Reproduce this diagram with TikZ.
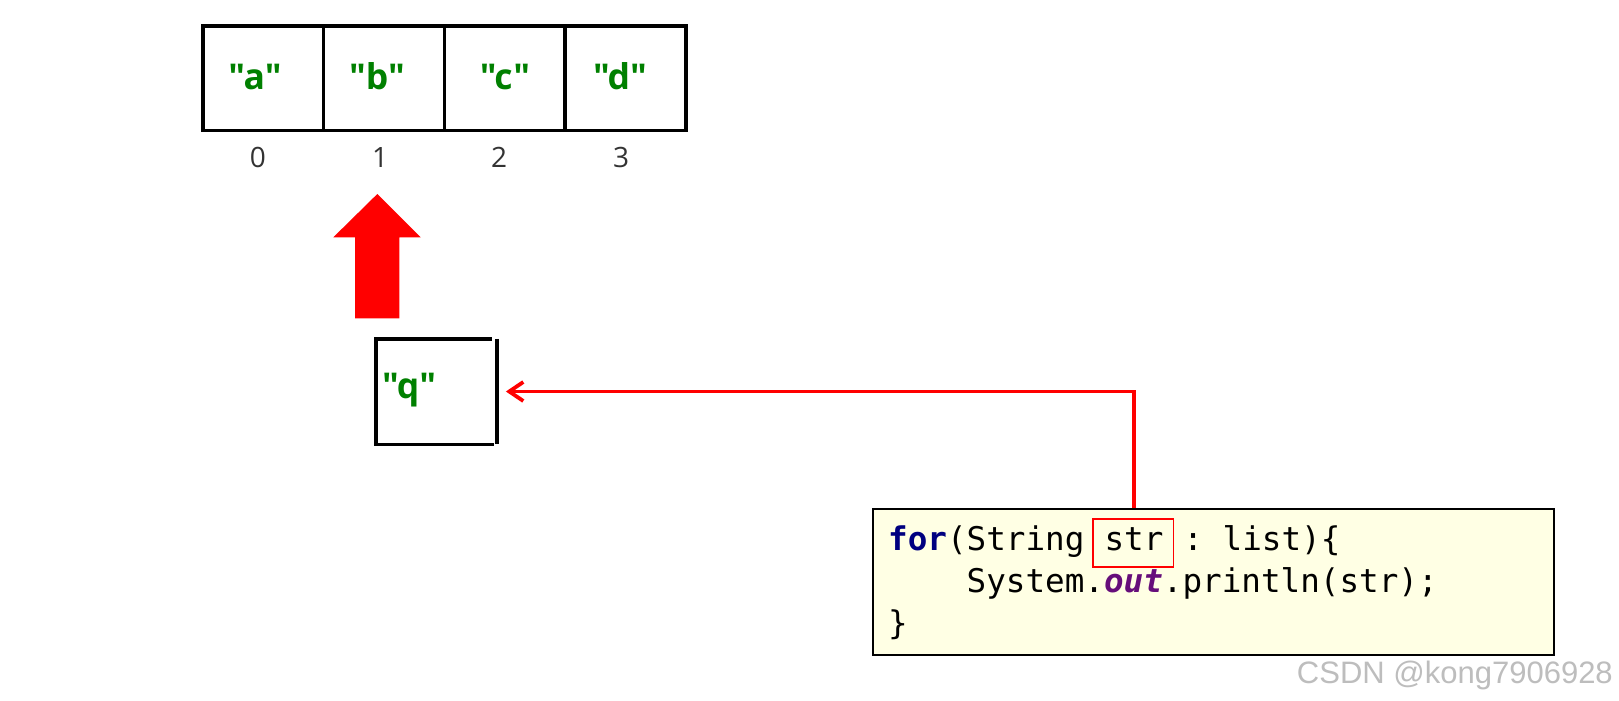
\documentclass[tikz,border=0pt]{standalone}
\usepackage{fontspec}
\setmainfont{Open Sans}[Ligatures=TeXOff]
\newfontfamily\codefont{DejaVu Sans Mono}[Ligatures=TeXOff]
\newfontfamily\wmfont{Liberation Sans}[Ligatures=TeXOff]
\usetikzlibrary{arrows.meta}
\definecolor{strgreen}{HTML}{008000}
\definecolor{idxgray}{HTML}{333333}
\definecolor{codebg}{HTML}{FFFFE4}
\definecolor{kwblue}{HTML}{000080}
\definecolor{fieldpurple}{HTML}{660E7A}
\definecolor{arrred}{HTML}{FF0000}
\definecolor{wmgray}{HTML}{BDBDBD}
\tikzset{
  cell/.style={draw=black, line width=3.4pt, minimum width=120.7pt, minimum height=104.7pt, inner sep=0pt},
  strlabel/.style={text=strgreen, font=\fontsize{35.5}{42}\selectfont\bfseries, inner sep=0pt},
  idxlabel/.style={text=idxgray, font=\fontsize{28}{34}\selectfont, inner sep=0pt, anchor=base},
  qline/.style={draw=black, line width=3.4pt},
  codeline/.style={font=\codefont\fontsize{32.6}{40}\selectfont, inner sep=0pt, anchor=base west},
  codebox/.style={draw=black, line width=2pt, fill=codebg, minimum width=681.5pt, minimum height=145.6pt, inner sep=0pt},
  conn/.style={draw=arrred, line width=3.8pt, -{Straight Barb[length=14pt,width=19pt]}},
  redbox/.style={draw=arrred, line width=1.8pt},
}
\begin{document}
\begin{tikzpicture}[x=1pt,y=-1pt]
\useasboundingbox[fill=white] (0,0) rectangle (1619,701);

% array cells
\node[cell] (c0) at (263.35,78.35) {};
\node[cell] (c1) at (384.05,78.35) {};
\node[cell] (c2) at (504.75,78.35) {};
\node[cell] (c3) at (625.45,78.35) {};

% string labels
\node[strlabel, anchor=base] (t0) at (255,89) {"a"};
\node[strlabel, anchor=base] (t1) at (377,89) {"b"};
\node[strlabel, anchor=base] (t2) at (505,89) {"c"};
\node[strlabel, anchor=base] (t3) at (620,89) {"d"};

% indices
\node[idxlabel] (i0) at (258,167) {0};
\node[idxlabel] (i1) at (380,167) {1};
\node[idxlabel] (i2) at (499,167) {2};
\node[idxlabel] (i3) at (621,167) {3};

% block arrow
\fill[arrred] (377.3,194) -- (420.7,237.3) -- (399.3,237.3) -- (399.3,318.3)
  -- (355,318.3) -- (355,237.3) -- (333.3,237.3) -- cycle;

% q box
\node[minimum width=120.7pt, minimum height=105pt, inner sep=0pt] (qbox) at (436.35,391.5) {};
\draw[qline] ([xshift=-5pt]qbox.north east) -- (qbox.north west) -- (qbox.south west) -- ([xshift=-3pt]qbox.south east);
\draw[qline] (qbox.north east) -- (qbox.south east);
\node[strlabel, anchor=base west] (qtext) at (382,398.3) {"q"};

% code box
\node[codebox] (code) at (1213.25,581.8) {};
\node[codeline] (l1a) at (888,550) {{\bfseries\color{kwblue}for}(String\ \null};
\node[codeline] (str) at (l1a.base east) {str};
\node[codeline] (l1c) at (str.base east) {\null\ :\ list)\{};
\node[codeline] (l2) at (966.5,592) {System.{\bfseries\itshape\color{fieldpurple}out}.println(str);};
\node[codeline] (l3) at (888,634) {\}};
\draw[redbox] ([xshift=-11pt,yshift=-17pt]str.base west) rectangle ([xshift=10pt,yshift=31pt]str.base east);

% connector
\coordinate (cn) at (str.base |- code.north);
\draw[conn, shorten >=9pt] (cn) |- (qbox.east);

% watermark
\node[text=wmgray, font=\wmfont\fontsize{31}{36}\selectfont, inner sep=0pt, anchor=base east] (wm) at (1613,683) {CSDN @kong7906928};
\end{tikzpicture}
\end{document}
